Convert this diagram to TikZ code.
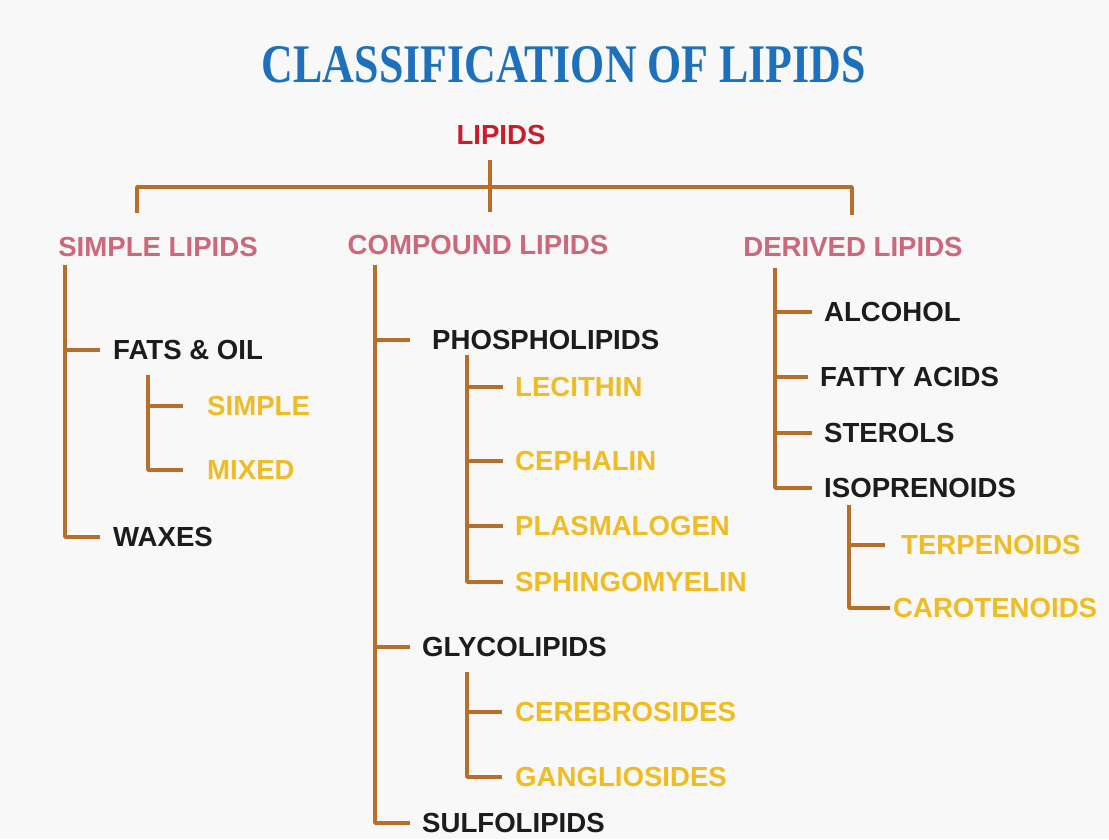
\documentclass[tikz,border=0pt]{standalone}
\usepackage{fontspec}
\usepackage{graphicx}
\setmainfont{Liberation Sans}
\newfontfamily\titlefont{Liberation Serif}
\usetikzlibrary{positioning}
\definecolor{titleblue}{RGB}{28,112,188}
\definecolor{rootred}{RGB}{204,28,40}
\definecolor{grouppink}{RGB}{204,104,122}
\definecolor{itemblack}{RGB}{28,28,28}
\definecolor{subyellow}{RGB}{240,188,36}
\definecolor{linkbrown}{RGB}{184,110,38}
\definecolor{paper}{RGB}{248,248,248}

\begin{document}
\begin{tikzpicture}[x=1pt, y=-1pt, font=\fontsize{27.6}{30}\selectfont\bfseries,
  item/.style={anchor=west, inner sep=0pt, text=itemblack},
  subitem/.style={anchor=west, inner sep=0pt, text=subyellow},
  group/.style={inner sep=0pt, text=grouppink},
  link/.style={linkbrown, line width=3.5pt, line join=round}]
  \fill[paper] (0,0) rectangle (1109,839);
  \useasboundingbox (0,0) rectangle (1109,839);

  % title and root
  \node[inner sep=0pt, text=titleblue] (title) at (564,65)
    {\resizebox{604pt}{36pt}{\titlefont\bfseries CLASSIFICATION OF LIPIDS}};
  \node[inner sep=0pt, text=rootred] (lipids) at (501,135) {LIPIDS};

  % three groups
  \node[group] (simple) at (158,247) {SIMPLE LIPIDS};
  \node[group] (compound) at (478,245) {COMPOUND LIPIDS};
  \node[group] (derived) at (853,247) {DERIVED LIPIDS};

  \coordinate (rootstem) at (490,160);
  \coordinate (hub) at (490,187);
  \coordinate (simpletop) at (137,213);
  \coordinate (compoundtop) at (490,212);
  \coordinate (derivedtop) at (852,215);
  \draw[link] (rootstem) -- (hub) -- (compoundtop);
  \draw[link] (simpletop) |- (hub) -| (derivedtop);

  % simple lipids
  \node[item] (fats) at (113,350) {FATS \& OIL};
  \node[item] (waxes) at (113,537) {WAXES};
  \node[subitem] (plain) at (207,406) {SIMPLE};
  \node[subitem] (mixed) at (207,470) {MIXED};
  \coordinate (simpletrunk) at (65,265);
  \coordinate (fatstrunk) at (148,375);
  \draw[link] (simpletrunk) |- ([xshift=-13]fats.west);
  \draw[link] (simpletrunk) |- ([xshift=-13]waxes.west);
  \draw[link] (fatstrunk) |- ([xshift=-24]plain.west);
  \draw[link] (fatstrunk) |- ([xshift=-24]mixed.west);

  % compound lipids
  \node[item] (phospho) at (432,340) {PHOSPHOLIPIDS};
  \node[subitem] (lecithin) at (515,387) {LECITHIN};
  \node[subitem] (cephalin) at (515,461) {CEPHALIN};
  \node[subitem] (plasmalogen) at (515,526) {PLASMALOGEN};
  \node[subitem] (sphingo) at (515,582) {SPHINGOMYELIN};
  \node[item] (glyco) at (422,647) {GLYCOLIPIDS};
  \node[subitem] (cerebro) at (515,712) {CEREBROSIDES};
  \node[subitem] (ganglio) at (515,777) {GANGLIOSIDES};
  \node[item] (sulfo) at (422,823) {SULFOLIPIDS};
  \coordinate (compoundtrunk) at (375,265);
  \coordinate (phosphotrunk) at (467,355);
  \coordinate (glycotrunk) at (467,672);
  \draw[link] (compoundtrunk) |- ([xshift=-22]phospho.west);
  \draw[link] (compoundtrunk) |- ([xshift=-12]glyco.west);
  \draw[link] (compoundtrunk) |- ([xshift=-12]sulfo.west);
  \foreach \n in {lecithin,cephalin,plasmalogen,sphingo}
    \draw[link] (phosphotrunk) |- ([xshift=-12]\n.west);
  \foreach \n in {cerebro,ganglio}
    \draw[link] (glycotrunk) |- ([xshift=-13]\n.west);

  % derived lipids
  \node[item] (alcohol) at (824,312) {ALCOHOL};
  \node[item] (fatty) at (820,377) {FATTY ACIDS};
  \node[item] (sterols) at (824,433) {STEROLS};
  \node[item] (isopren) at (824,488) {ISOPRENOIDS};
  \node[subitem] (terpen) at (901,545) {TERPENOIDS};
  \node[subitem] (caroten) at (893,608) {CAROTENOIDS};
  \coordinate (derivedtrunk) at (775,268);
  \coordinate (isoprentrunk) at (849,505);
  \foreach \n in {alcohol,fatty,sterols,isopren}
    \draw[link] (derivedtrunk) |- ([xshift=-12]\n.west);
  \draw[link] (isoprentrunk) |- ([xshift=-16]terpen.west);
  \draw[link] (isoprentrunk) |- ([xshift=-3]caroten.west);
\end{tikzpicture}
\end{document}
